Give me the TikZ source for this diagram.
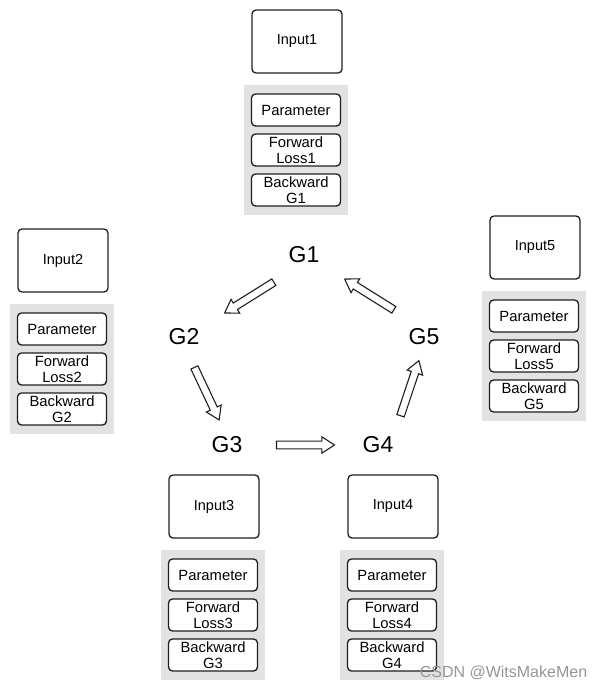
\documentclass[tikz,border=0pt]{standalone}
\usepackage{fontspec}
\setmainfont{Liberation Sans}
\usetikzlibrary{shapes.arrows}

\definecolor{panelgray}{RGB}{226,226,226}
\definecolor{markgray}{RGB}{150,150,150}
\definecolor{edgeblack}{RGB}{30,30,30}

\tikzset{
	inbox/.style={draw=edgeblack, line width=1.3pt, rounded corners=4pt, minimum width=90pt, minimum height=63pt, inner sep=0pt, font=\fontsize{14.5}{15}\selectfont},
	panel/.style={fill=panelgray, minimum width=104pt, minimum height=130pt, inner sep=0pt},
	cellbox/.style={draw=edgeblack, fill=white, line width=1.3pt, rounded corners=4pt, minimum width=89pt, minimum height=32pt, inner sep=0pt, align=center, font=\fontsize{14.8}{15.5}\selectfont},
	gnode/.style={inner sep=0pt, font=\fontsize{23}{26}\selectfont},
	hollow/.style={single arrow, draw=edgeblack, fill=white, line width=1.1pt, minimum height=58pt, minimum width=1pt, inner xsep=0pt, inner ysep=3.3pt, single arrow head extend=4.3pt, single arrow tip angle=66, sloped, allow upside down, midway}
}

\begin{document}
\begin{tikzpicture}[x=1pt, y=-1pt]
	\useasboundingbox (0,0) rectangle (602,688);

	%group 1 (top)
	\node[inbox] (in1) at (297,41.5) {Input1};
	\node[panel] (pan1) at (296,150) {};
	\node[cellbox] (par1) at (296,110) {Parameter};
	\node[cellbox] (fw1) at (296,150) {Forward\\Loss1};
	\node[cellbox] (bw1) at (296,190) {Backward\\G1};

	%group 2 (left)
	\node[inbox] (in2) at (63,260.5) {Input2};
	\node[panel] (pan2) at (62,369) {};
	\node[cellbox] (par2) at (62,329) {Parameter};
	\node[cellbox] (fw2) at (62,369) {Forward\\Loss2};
	\node[cellbox] (bw2) at (62,409) {Backward\\G2};

	%group 5 (right)
	\node[inbox] (in5) at (535,247.5) {Input5};
	\node[panel] (pan5) at (534,356) {};
	\node[cellbox] (par5) at (534,316) {Parameter};
	\node[cellbox] (fw5) at (534,356) {Forward\\Loss5};
	\node[cellbox] (bw5) at (534,396) {Backward\\G5};

	%group 3 (bottom left)
	\node[inbox] (in3) at (214,506.5) {Input3};
	\node[panel] (pan3) at (213,615) {};
	\node[cellbox] (par3) at (213,575) {Parameter};
	\node[cellbox] (fw3) at (213,615) {Forward\\Loss3};
	\node[cellbox] (bw3) at (213,655) {Backward\\G3};

	%group 4 (bottom right)
	\node[inbox] (in4) at (393,506.5) {Input4};
	\node[panel] (pan4) at (392,615) {};
	\node[cellbox] (par4) at (392,575) {Parameter};
	\node[cellbox] (fw4) at (392,615) {Forward\\Loss4};
	\node[cellbox] (bw4) at (392,655) {Backward\\G4};

	%gradient labels
	\node[gnode] (g1) at (304,255) {G1};
	\node[gnode] (g2) at (184,337) {G2};
	\node[gnode] (g3) at (227,445) {G3};
	\node[gnode] (g4) at (378,445) {G4};
	\node[gnode] (g5) at (424,337) {G5};

	%ring of hollow arrows
	\path (g1.south) -- node[hollow] {} (g2.north east);
	\path (g2.south) -- node[hollow] {} (g3.north);
	\path (g3.east) -- node[hollow] {} (g4.west);
	\path (g4.north east) -- node[hollow] {} (g5.south);
	\path (g5.north) -- node[hollow] {} (g1.south east);

	%watermark
	\node[markgray, font=\fontsize{16}{18}\selectfont] (mark) at (503.5,673) {CSDN @WitsMakeMen};
\end{tikzpicture}
\end{document}
